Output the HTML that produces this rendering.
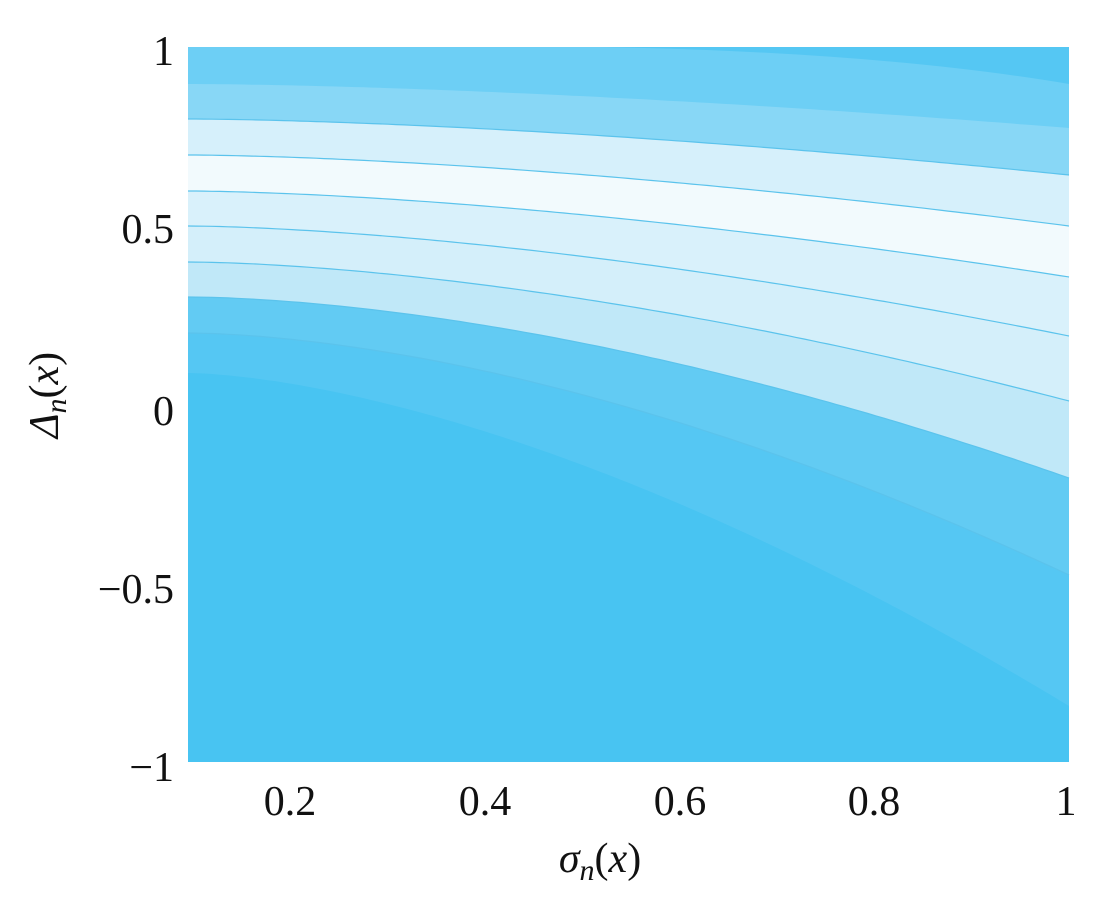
<!DOCTYPE html>
<html><head><meta charset="utf-8"><style>
html,body{margin:0;padding:0;background:#fff;width:1100px;height:906px;overflow:hidden}
svg text{font-family:"Liberation Serif",serif;fill:#111}
</style></head><body>
<svg id="s" width="1100" height="906" xmlns="http://www.w3.org/2000/svg">
<g id="bands"></g>
<g font-size="42">
<text x="290" y="815" text-anchor="middle">0.2</text>
<text x="485" y="815" text-anchor="middle">0.4</text>
<text x="680" y="815" text-anchor="middle">0.6</text>
<text x="874" y="815" text-anchor="middle">0.8</text>
<text x="1066" y="815" text-anchor="middle">1</text>
<text x="174" y="65" text-anchor="end">1</text>
<text x="174" y="243" text-anchor="end">0.5</text>
<text x="174" y="425" text-anchor="end">0</text>
<text x="174" y="603" text-anchor="end">−0.5</text>
<text x="174" y="781" text-anchor="end">−1</text>
<text x="600" y="872" text-anchor="middle" font-style="italic">σ<tspan font-size="30" dy="8">n</tspan><tspan dy="-8" font-style="normal">(</tspan>x<tspan font-style="normal">)</tspan></text>
<text transform="translate(58,395) rotate(-90)" text-anchor="middle" font-style="italic">Δ<tspan font-size="30" dy="8">n</tspan><tspan dy="-8" font-style="normal">(</tspan>x<tspan font-style="normal">)</tspan></text>
</g>
</svg>
<script>
var L=188,R=1069,T=47,B=762,W=R-L;
var bounds=[[84,128,1.6],[119,175,1.6],[155,226,1.6],[191,277,1.6],[226,336,1.6],[262,401,1.65],[297,478,1.7],[333,575,1.7],[373,706,1.6]];
var cols=["#6dcff5","#88d7f6","#d6f0fb","#f2fafd","#d9f1fb","#d4effa","#c0e8f8","#62cbf3","#55c7f3","#48c4f2"];
function yf(b,x){var t=(x-L)/W;return b[0]+(b[1]-b[0])*Math.pow(t,b[2]);}
function pts(b){var a=[];for(var x=L;x<=R;x+=8){a.push([x,yf(b,Math.min(x,R))]);}a.push([R,yf(b,R)]);return a;}
var g=document.getElementById('bands'),h="";
h+='<rect x="'+L+'" y="'+T+'" width="'+W+'" height="'+(B-T)+'" fill="'+cols[9]+'"/>';
for(var i=bounds.length-1;i>=0;i--){
 var p=pts(bounds[i]);var d="M"+L+","+T;
 p.forEach(function(q){d+=" L"+q[0]+","+Math.min(q[1],B).toFixed(1);});
 d+=" L"+R+","+T+" Z";
 h+='<path d="'+d+'" fill="'+cols[i]+'"/>';
}
h+='<path d="M600,'+T+' Q880,52 '+R+',84 L'+R+','+T+' Z" fill="#55c7f3"/>';
for(var i=1;i<8;i++){var p=pts(bounds[i]);var d="M"+p.map(function(q){return q[0]+","+q[1].toFixed(1)}).join(" L");
h+='<path d="'+d+'" fill="none" stroke="#5bc3ec" stroke-width="1.2"/>';}
g.innerHTML=h;
</script>
</body></html>
